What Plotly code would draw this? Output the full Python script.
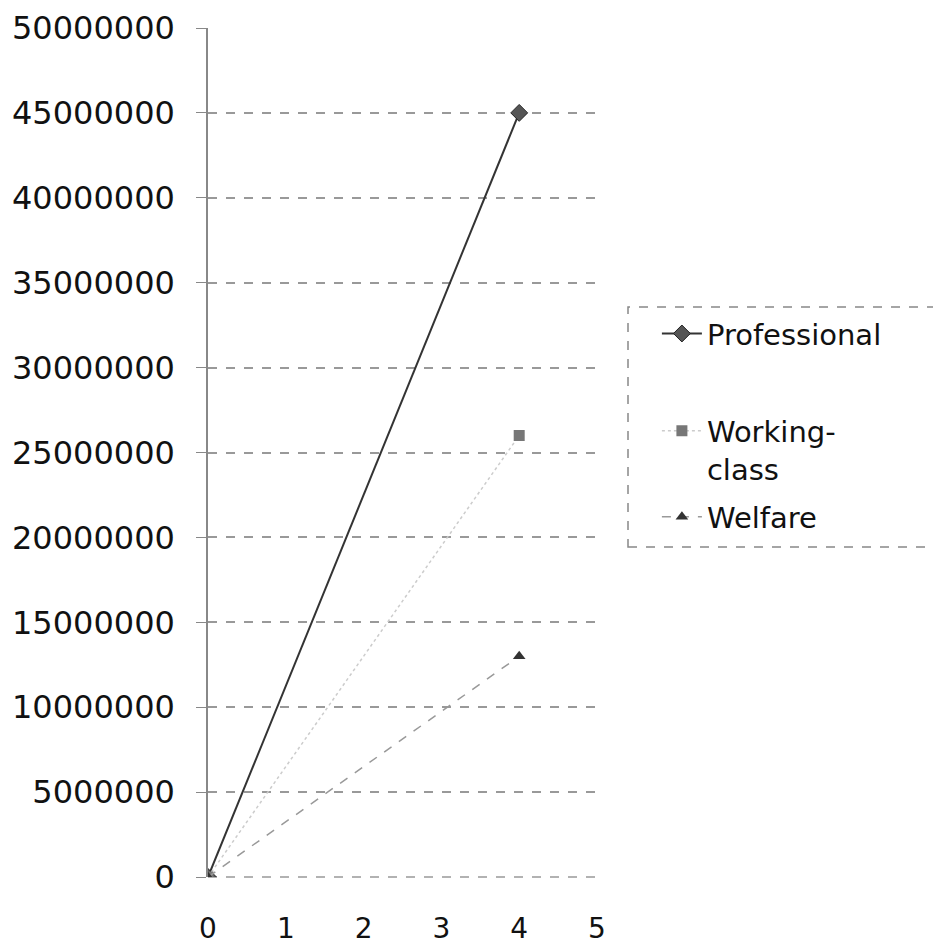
import plotly.graph_objects as go

x_vals = [0, 4]
professional = [0, 45000000]
working_class = [0, 26000000]
welfare = [0, 13000000]

series_names = ["Professional", "Working-<br>class", "Welfare"]
y_ticks = list(range(0, 50000001, 5000000))
x_ticks = [0, 1, 2, 3, 4, 5]

fig = go.Figure()
fig.add_trace(go.Scatter(
    x=x_vals, y=professional, name=series_names[0], mode="lines+markers",
    line=dict(color="#333333", width=2),
    marker=dict(symbol="diamond", size=13, color="#555555", line=dict(color="#222222", width=1)),
    legend="legend",
))
fig.add_trace(go.Scatter(
    x=x_vals, y=working_class, name=series_names[1], mode="lines+markers",
    line=dict(color="#cccccc", width=1.5, dash="dot"),
    marker=dict(symbol="square", size=11, color="#777777"),
    legend="legend2",
))
fig.add_trace(go.Scatter(
    x=x_vals, y=welfare, name=series_names[2], mode="lines+markers",
    line=dict(color="#999999", width=1.5, dash="dash"),
    marker=dict(symbol="triangle-up", size=11, color="#333333"),
    legend="legend3",
))

legend_font = dict(size=29, family="DejaVu Sans", color="#111111")
legend_common = dict(
    x=1.154, xanchor="left", yanchor="middle", font=legend_font,
    bgcolor="rgba(0,0,0,0)", borderwidth=0, itemwidth=40, valign="top",
)

# the page body adds an 8px offset, so margins are shifted up/left by 8
fig.update_layout(
    width=941, height=947,
    paper_bgcolor="white", plot_bgcolor="white",
    margin=dict(l=200, r=352, t=20, b=78),
    font=dict(family="DejaVu Sans", color="#111111"),
    showlegend=True,
    legend=dict(y=0.640, **legend_common),
    legend2=dict(y=0.503, **legend_common),
    legend3=dict(y=0.424, **legend_common),
    xaxis=dict(
        range=[0, 5], tickvals=x_ticks, showgrid=False, zeroline=False,
        showline=False, ticks="", tickfont=dict(size=28), ticklabelstandoff=32,
        automargin=False,
    ),
    yaxis=dict(
        range=[0, 50000000], tickvals=y_ticks, ticktext=[str(v) for v in y_ticks],
        showgrid=True, gridcolor="#999999", griddash="dash", gridwidth=1.5,
        zeroline=False, showline=True, linecolor="#888888", linewidth=1.5,
        ticks="outside", ticklen=10, tickcolor="#888888",
        tickfont=dict(size=32), ticklabelstandoff=15, automargin=False,
    ),
    shapes=[
        # legend frame
        dict(type="rect", xref="paper", yref="paper",
             x0=1.0797, x1=2.0, y0=0.3887, y1=0.6714,
             line=dict(color="#888888", width=1.5, dash="dash")),
        # dashed baseline gridline at zero
        dict(type="line", xref="paper", yref="paper",
             x0=0, x1=1, y0=0, y1=0, layer="below",
             line=dict(color="#999999", width=1.5, dash="dash")),
    ],
)

fig.write_html("out.html")
